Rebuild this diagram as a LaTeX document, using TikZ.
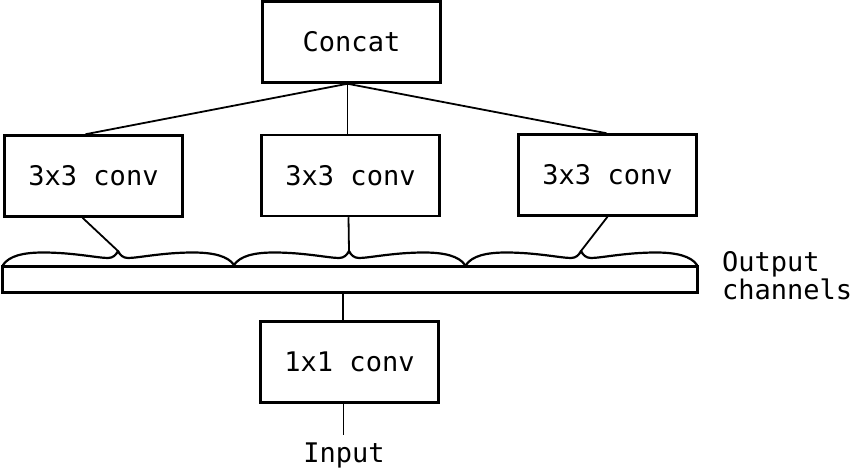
\documentclass[tikz,border=0pt]{standalone}
\usepackage{fontspec}
\setmonofont{DejaVu Sans Mono}
\begin{document}
\begin{tikzpicture}[x=1pt,y=-1pt,
  box/.style={draw,line width=2.5pt,minimum width=178pt,minimum height=81pt,inner sep=0pt,font=\ttfamily\fontsize{27}{30}\selectfont},
  conn/.style={line width=1.8pt},
  lbl/.style={font=\ttfamily\fontsize{27}{28}\selectfont,inner sep=0pt},
  curly/.pic={\draw[line width=2.2pt,line cap=round,line join=round]
    (0,0) .. controls (6,-9) and (20,-12.5) .. (40,-12.5)
    .. controls (70,-12.5) and (95,-7) .. (105,-7)
    .. controls (110,-7) and (113,-10) .. (115,-14)
    .. controls (117,-10) and (120,-7) .. (125,-7)
    .. controls (135,-7) and (160,-12.5) .. (190,-12.5)
    .. controls (210,-12.5) and (225,-9) .. (231,0);}]
\useasboundingbox (0,0) rectangle (854,473);
\node[box] (concat) at (351.5,42) {Concat};
\node[box] (c1) at (93.5,176) {3x3 conv};
\node[box] (c2) at (350.5,175.5) {3x3 conv};
\node[box] (c3) at (607.5,175) {3x3 conv};
\node[draw,line width=2.2pt,minimum width=695pt,minimum height=26pt,inner sep=0pt] (bar) at (350,279.5) {};
\node[box] (c0) at (349.5,362) {1x1 conv};
\node[lbl,anchor=base] (input) at (344,462) {Input};
\node[lbl,align=left,anchor=west] (out) at (722,276) {Output\\channels};
\pic at (3,265) {curly};
\pic at (234,265) {curly};
\pic at (466,265) {curly};
\coordinate (b1) at (118,251);
\coordinate (b2) at (349,251);
\coordinate (b3) at (581,251);
\draw[conn] ([xshift=-4pt]concat.south) -- ([xshift=-8pt]c1.north);
\draw[conn] ([xshift=-4pt]concat.south) -- ([xshift=-3pt]c2.north);
\draw[conn] ([xshift=-4pt]concat.south) -- ([xshift=-1pt]c3.north);
\draw[conn] ([xshift=-11pt]c1.south) -- (b1);
\draw[conn] ([xshift=-2pt]c2.south) -- (b2);
\draw[conn] (c3.south) -- (b3);
\draw[conn] ([xshift=-6.5pt]c0.north) -- ([xshift=-6.5pt]c0.north |- bar.south);
\draw[conn] ([xshift=-6pt]c0.south) -- ([xshift=-6pt,yshift=7pt]c0.south |- input.north);
\end{tikzpicture}
\end{document}
